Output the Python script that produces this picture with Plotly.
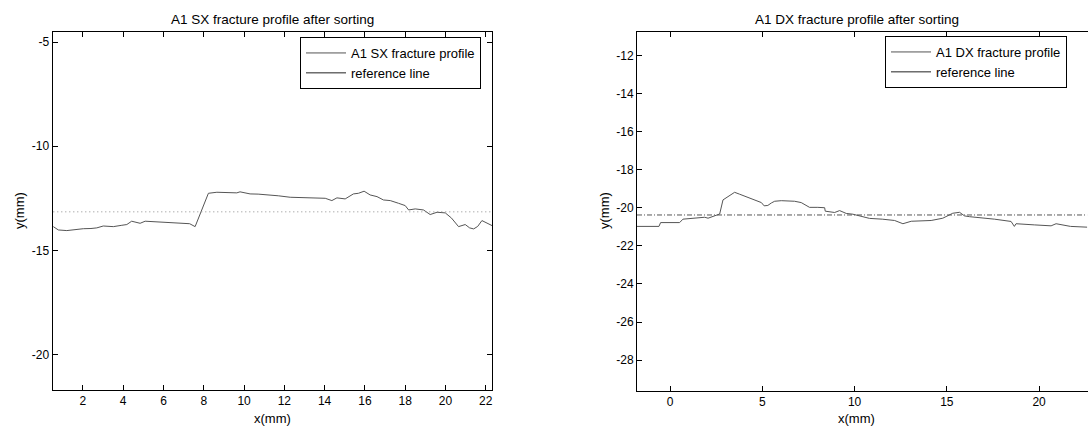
import plotly.graph_objects as go

# ---------------- data ----------------
SX_X = [0.53, 0.78, 1.20, 1.60, 2.02, 2.40, 2.69, 3.01, 3.25, 3.51, 3.90, 4.18, 4.42, 4.65, 4.84, 5.09,
        5.60, 6.16, 6.60, 6.99, 7.30, 7.57, 7.90, 8.23, 8.65, 9.20, 9.64, 9.80, 10.30, 10.70, 11.13,
        11.70, 12.29, 12.90, 13.61, 14.03, 14.36, 14.61, 15.02, 15.43, 15.68, 15.96, 16.26, 16.60,
        16.92, 17.26, 17.67, 18.00, 18.17, 18.50, 18.91, 19.24, 19.58, 19.99, 20.30, 20.65, 20.98,
        21.20, 21.40, 21.60, 21.81, 22.00, 22.31]
SX_Y = [-13.86, -14.02, -14.05, -14.00, -13.96, -13.95, -13.92, -13.83, -13.86, -13.86, -13.80, -13.76,
        -13.60, -13.64, -13.70, -13.60, -13.63, -13.65, -13.66, -13.70, -13.72, -13.86, -13.10, -12.26,
        -12.21, -12.24, -12.24, -12.19, -12.29, -12.30, -12.32, -12.38, -12.45, -12.46, -12.48, -12.50,
        -12.61, -12.48, -12.53, -12.29, -12.26, -12.16, -12.34, -12.42, -12.58, -12.61, -12.74, -12.85,
        -13.06, -13.01, -13.06, -13.28, -13.17, -13.20, -13.45, -13.86, -13.76, -13.92, -13.97, -13.85,
        -13.57, -13.65, -13.81]
SX_REF = -13.15

DX_X = [-1.79, -0.60, -0.51, 0.52, 0.70, 1.34, 1.88, 2.06, 2.40, 2.69, 2.87, 3.14, 3.41, 3.50, 3.77,
        4.22, 4.58, 4.95, 5.10, 5.30, 5.49, 5.67, 6.03, 6.75, 7.11, 7.56, 8.01, 8.38, 8.41, 8.92, 9.19,
        9.55, 9.91, 10.81, 11.50, 12.17, 12.62, 13.07, 14.15, 14.78, 15.32, 15.69, 15.96, 16.23, 17.58,
        18.48, 18.66, 18.75, 19.74, 20.65, 20.92, 21.70, 22.60]
DX_Y = [-20.98, -20.98, -20.78, -20.78, -20.60, -20.55, -20.50, -20.55, -20.42, -20.33, -19.59, -19.42,
        -19.24, -19.19, -19.29, -19.45, -19.59, -19.73, -19.90, -19.88, -19.75, -19.66, -19.63, -19.66,
        -19.73, -19.98, -19.98, -20.00, -20.18, -20.25, -20.15, -20.30, -20.34, -20.56, -20.60, -20.67,
        -20.84, -20.71, -20.67, -20.55, -20.29, -20.24, -20.43, -20.47, -20.60, -20.72, -20.98, -20.84,
        -20.90, -20.95, -20.84, -20.98, -21.02]
DX_REF = -20.38

SX_XTICKS = [2, 4, 6, 8, 10, 12, 14, 16, 18, 20, 22]
SX_YTICKS = [-5, -10, -15, -20]
DX_XTICKS = [0, 5, 10, 15, 20, 25]
DX_YTICKS = [-12, -14, -16, -18, -20, -22, -24, -26, -28]

TITLES = ["A1 SX fracture profile after sorting", "A1 DX fracture profile after sorting"]
NAMES_SX = ["A1 SX fracture profile", "reference line"]
NAMES_DX = ["A1 DX fracture profile", "reference line"]

# ---------------- figure ----------------
W, H = 1088, 427
FONT = "Liberation Sans, Arial, Helvetica, sans-serif"


def px(x):
    return x / W


def py(y):
    return (H - y) / H


def labels(vals):
    return [str(v) for v in vals]  # plain hyphen-minus like the original


fig = go.Figure()

# left panel
fig.add_trace(go.Scatter(x=SX_X, y=SX_Y, mode="lines", name=NAMES_SX[0],
                         line=dict(color="#555555", width=1), xaxis="x", yaxis="y", legend="legend"))
fig.add_trace(go.Scatter(x=[SX_X[0], SX_X[-1]], y=[SX_REF, SX_REF], mode="lines", name=NAMES_SX[1],
                         line=dict(color="#8a8a8a", width=1, dash="1px,3px"), xaxis="x", yaxis="y",
                         showlegend=False))
fig.add_trace(go.Scatter(x=[None], y=[None], mode="lines", name=NAMES_SX[1],
                         line=dict(color="#222222", width=1), xaxis="x", yaxis="y", legend="legend"))

# right panel
fig.add_trace(go.Scatter(x=DX_X, y=DX_Y, mode="lines", name=NAMES_DX[0],
                         line=dict(color="#555555", width=1), xaxis="x2", yaxis="y2", legend="legend2"))
fig.add_trace(go.Scatter(x=[DX_X[0], DX_X[-1]], y=[DX_REF, DX_REF], mode="lines", name=NAMES_DX[1],
                         line=dict(color="#555555", width=1, dash="5px,2px,1px,2px"), xaxis="x2", yaxis="y2",
                         showlegend=False))
fig.add_trace(go.Scatter(x=[None], y=[None], mode="lines", name=NAMES_DX[1],
                         line=dict(color="#222222", width=1), xaxis="x2", yaxis="y2", legend="legend2"))

axis_common = dict(showline=True, linecolor="black", linewidth=1, ticks="inside", ticklen=5,
                   tickcolor="black", showgrid=False, zeroline=False,
                   tickfont=dict(family=FONT, size=12, color="black"))

leg_common = dict(xanchor="left", yanchor="top", bgcolor="white", bordercolor="black", borderwidth=1,
                  font=dict(family=FONT, size=13, color="black"), tracegroupgap=0, itemwidth=40)

fig.update_layout(
    width=W, height=H,
    margin=dict(l=0, r=0, t=0, b=0, autoexpand=False),
    paper_bgcolor="white", plot_bgcolor="white",
    font=dict(family=FONT, size=13, color="black"),
    xaxis=dict(domain=[px(52.5), px(492)], range=[0.49, 22.31], tickvals=SX_XTICKS,
               ticktext=labels(SX_XTICKS), mirror="ticks", anchor="y", **axis_common),
    yaxis=dict(domain=[py(390), py(32)], range=[-21.7, -4.52], tickvals=SX_YTICKS,
               ticktext=labels(SX_YTICKS), mirror="ticks", anchor="x", **axis_common),
    xaxis2=dict(domain=[px(637), 1.0], range=[-1.79, 22.65], tickvals=DX_XTICKS,
                ticktext=labels(DX_XTICKS), mirror="ticks", anchor="y2", **axis_common),
    yaxis2=dict(domain=[py(391), py(31.7)], range=[-29.62, -10.76], tickvals=DX_YTICKS,
                ticktext=labels(DX_YTICKS), mirror=False, anchor="x2", **axis_common),
    legend=dict(x=px(300), y=py(37), **leg_common),
    legend2=dict(x=px(885), y=py(36), **leg_common),
    showlegend=True,
)

ann = []
for cx, t in [((52.5 + 492) / 2, TITLES[0]), ((637 + 1076) / 2, TITLES[1])]:
    ann.append(dict(x=px(cx), y=py(19), xref="paper", yref="paper", text=t, showarrow=False,
                    xanchor="center", yanchor="middle", font=dict(family=FONT, size=13.5, color="black")))
for cx in [(52.5 + 492) / 2, (637 + 1076) / 2]:
    ann.append(dict(x=px(cx), y=py(418.5), xref="paper", yref="paper", text="x(mm)", showarrow=False,
                    xanchor="center", yanchor="middle", font=dict(family=FONT, size=13, color="black")))
for cx in [19, 604]:
    ann.append(dict(x=px(cx), y=py(211), xref="paper", yref="paper", text="y(mm)", showarrow=False,
                    textangle=-90, xanchor="center", yanchor="middle",
                    font=dict(family=FONT, size=13, color="black")))
fig.update_layout(annotations=ann)

fig.write_html("out.html")
